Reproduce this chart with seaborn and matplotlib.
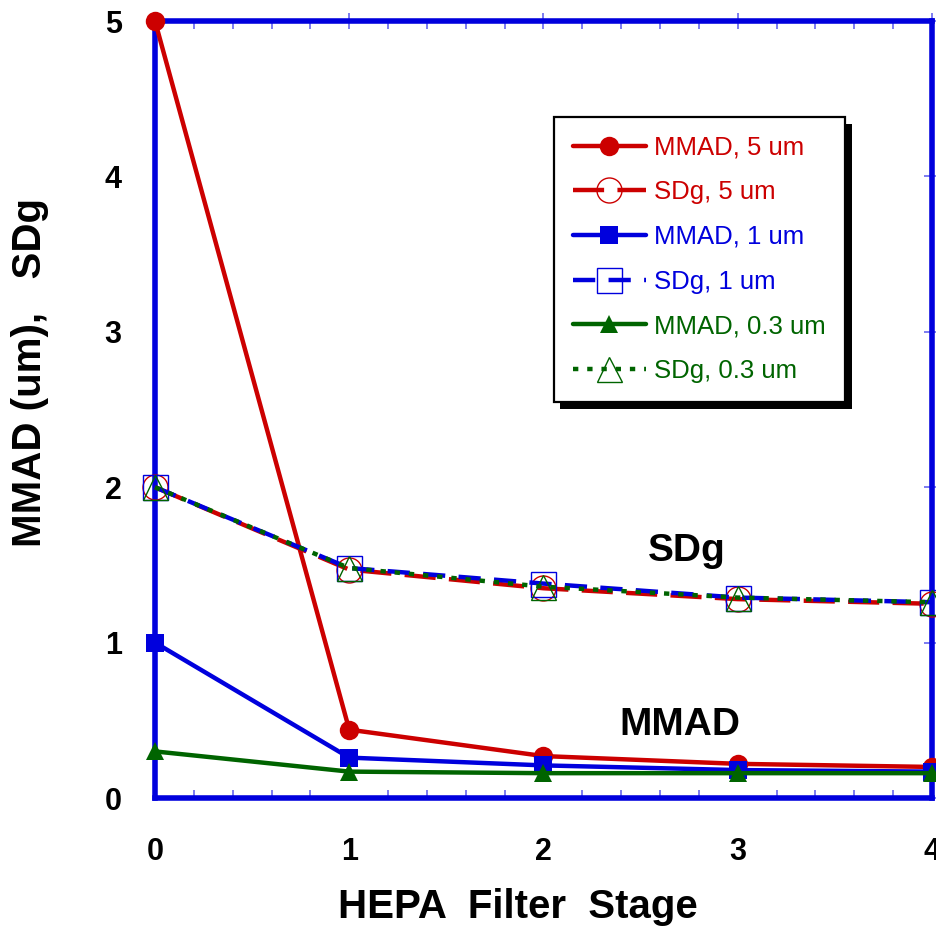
import matplotlib
matplotlib.use("Agg")
import matplotlib.pyplot as plt
import matplotlib.patheffects as pe
from matplotlib.ticker import MultipleLocator
import seaborn as sns
import pandas as pd

sns.set_theme(style="white")
plt.rcParams["font.family"] = ["Liberation Sans", "DejaVu Sans"]
plt.rcParams["text.color"] = "black"
plt.rcParams["axes.labelcolor"] = "black"
plt.rcParams["xtick.color"] = "black"
plt.rcParams["ytick.color"] = "black"

stage = [0, 1, 2, 3, 4]
mmad_5 = [5.0, 0.44, 0.27, 0.22, 0.20]
sdg_5 = [2.0, 1.47, 1.35, 1.28, 1.25]
mmad_1 = [1.0, 0.26, 0.21, 0.18, 0.17]
sdg_1 = [2.0, 1.48, 1.38, 1.29, 1.26]
mmad_03 = [0.30, 0.17, 0.16, 0.16, 0.16]
sdg_03 = [2.0, 1.48, 1.36, 1.29, 1.26]

RED = "#cc0000"
BLUE = "#0000dd"
GREEN = "#006400"

series = [
    ("MMAD, 5 um", mmad_5, RED, "o", "-", True),
    ("SDg, 5 um", sdg_5, RED, "o", (0, (7, 3)), False),
    ("MMAD, 1 um", mmad_1, BLUE, "s", "-", True),
    ("SDg, 1 um", sdg_1, BLUE, "s", (0, (5, 3)), False),
    ("MMAD, 0.3 um", mmad_03, GREEN, "^", "-", True),
    ("SDg, 0.3 um", sdg_03, GREEN, "^", (0, (1.2, 2)), False),
]

fig = plt.figure(figsize=(9.36, 9.30), dpi=100)
ax = fig.add_axes([0.1656, 0.1419, 0.8300, 0.8355])

for name, vals, col, mk, ls, filled in series:
    df = pd.DataFrame({"stage": stage, "value": vals})
    msize = 13 if mk != "o" else 14
    if not filled:
        msize = 18
    sns.lineplot(
        data=df, x="stage", y="value", ax=ax, color=col, linewidth=3.2,
        linestyle=ls, marker=mk, markersize=msize,
        markerfacecolor=col if filled else "none",
        markeredgecolor=col, markeredgewidth=0 if filled else 1.0,
        label=name, clip_on=False, zorder=3,
    )

ax.set_xlim(0, 4)
ax.set_ylim(0, 5)
ax.xaxis.set_major_locator(MultipleLocator(1))
ax.xaxis.set_minor_locator(MultipleLocator(0.2))
ax.yaxis.set_major_locator(MultipleLocator(1))

for s in ax.spines.values():
    s.set_color(BLUE)
    s.set_linewidth(4)
    s.set_zorder(2)

ax.tick_params(axis="both", which="major", direction="inout", length=12,
               width=1.2, color="#6666ee", labelsize=22, labelcolor="black",
               top=True, right=True)
ax.tick_params(axis="x", which="major", pad=22)
ax.tick_params(axis="y", which="major", pad=18)
ax.tick_params(axis="x", which="minor", direction="in", length=6,
               width=1.2, color="#6666ee", top=True, bottom=True)
for lab in ax.get_xticklabels() + ax.get_yticklabels():
    lab.set_fontweight("bold")

ax.set_xlabel("HEPA  Filter  Stage", fontsize=29, fontweight="bold")
ax.set_ylabel("MMAD (um),   SDg", fontsize=29, fontweight="bold")
ax.xaxis.set_label_coords(0.467, -0.116)
ax.yaxis.set_label_coords(-0.136, 0.548)

ax.text(2.74, 1.59, "SDg", fontsize=28, fontweight="bold", ha="center", va="center")
ax.text(2.70, 0.47, "MMAD", fontsize=28, fontweight="bold", ha="center", va="center")

leg = ax.legend(loc="upper left", bbox_to_anchor=(0.513, 0.877), fontsize=18.5,
                handlelength=2.85, handletextpad=0.3, labelspacing=0.8,
                borderpad=0.75, frameon=True, fancybox=False, shadow=False,
                framealpha=1.0, borderaxespad=0)
frame = leg.get_frame()
frame.set_edgecolor("black")
frame.set_linewidth(1.6)
frame.set_facecolor("white")
frame.set_path_effects([pe.SimplePatchShadow(offset=(5, -5), shadow_rgbFace="black", alpha=1.0),
                        pe.Normal()])
for txt, (_, _, col, _, _, _) in zip(leg.get_texts(), series):
    txt.set_color(col)

fig.savefig("out.png", dpi=100)
